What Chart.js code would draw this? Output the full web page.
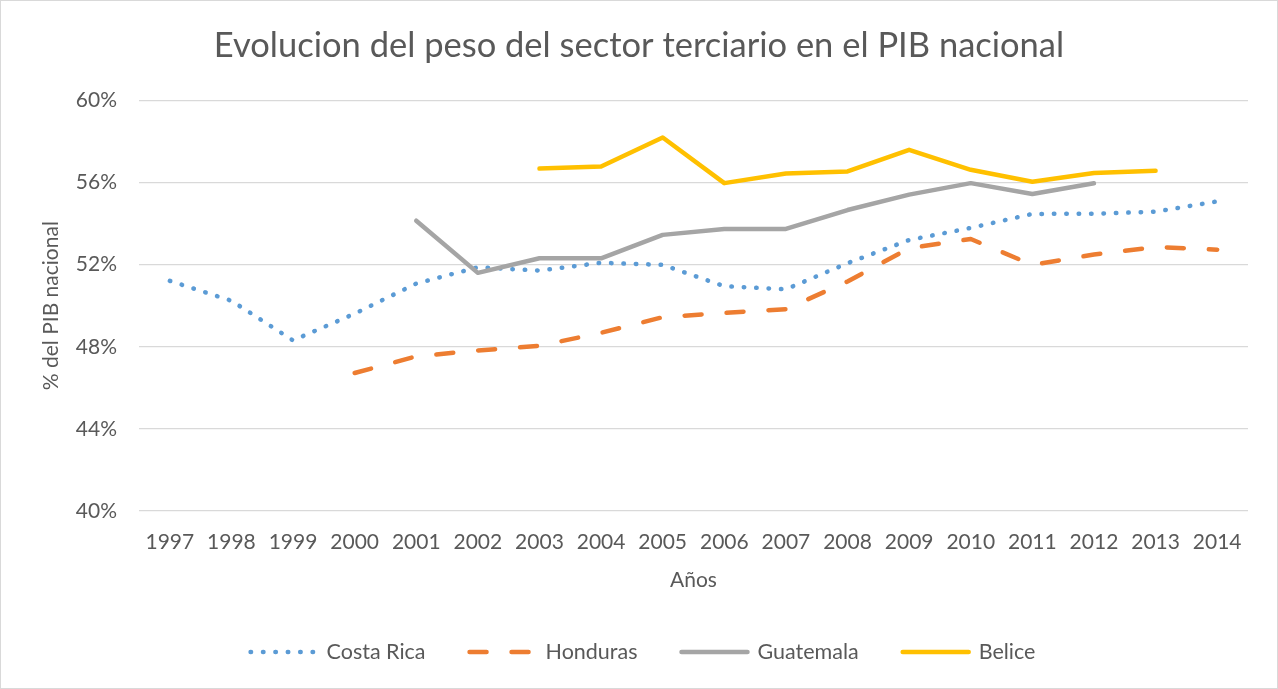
<!DOCTYPE html>
<html lang="es">
<head>
<meta charset="utf-8">
<title>Evolucion del peso del sector terciario en el PIB nacional</title>
<script src="https://cdn.jsdelivr.net/npm/chart.js@4.4.1/dist/chart.umd.min.js"></script>
<style>
  html, body { margin: 0; padding: 0; background: #ffffff; }
  #wrap { width: 1278px; height: 689px; position: relative; }
</style>
</head>
<body>
<div id="wrap"><canvas id="pibChart" width="1278" height="689"></canvas></div>
<script>
  // Data (% of GDP)
  const years = ['1997', '1998', '1999', '2000', '2001', '2002', '2003', '2004', '2005',
                 '2006', '2007', '2008', '2009', '2010', '2011', '2012', '2013', '2014'];
  const costaRica = [51.21, 50.24, 48.31, 49.61, 51.08, 51.87, 51.71, 52.09, 51.99,
                     50.95, 50.80, 52.07, 53.20, 53.79, 54.47, 54.48, 54.58, 55.08];
  const honduras = [null, null, null, 46.72, 47.53, 47.82, 48.05, 48.68, 49.44,
                    49.65, 49.83, 51.18, 52.80, 53.25, 51.99, 52.49, 52.86, 52.73];
  const guatemala = [null, null, null, null, 54.14, 51.60, 52.31, 52.31, 53.45,
                     53.74, 53.74, 54.66, 55.41, 55.97, 55.44, 55.96, null, null];
  const belice = [null, null, null, null, null, null, 56.68, 56.78, 58.19,
                  55.97, 56.44, 56.54, 57.59, 56.62, 56.04, 56.46, 56.57, null];
  const yTicks = [40, 44, 48, 52, 56, 60];

  const textColor = '#595959';
  const fontFamily = "Lato, 'Open Sans', sans-serif";

  // Thin grey frame around the whole chart
  const framePlugin = {
    id: 'frame',
    beforeDraw(chart) {
      const ctx = chart.ctx;
      ctx.save();
      ctx.fillStyle = '#ffffff';
      ctx.fillRect(0, 0, chart.width, chart.height);
      ctx.strokeStyle = '#d9d9d9';
      ctx.lineWidth = 1;
      ctx.strokeRect(0.5, 0.5, chart.width - 1, chart.height - 1);
      ctx.restore();
    }
  };

  // Legend drawn by hand so the line samples look like Excel's
  const lineLegend = {
    id: 'lineLegend',
    afterDraw(chart) {
      const ctx = chart.ctx;
      const sample = 70, gapText = 8, gapItem = 42, y = 652;
      ctx.save();
      ctx.font = '21.5px ' + fontFamily;
      ctx.textBaseline = 'middle';
      const sets = chart.data.datasets;
      let total = 0;
      sets.forEach((ds, i) => {
        total += sample + gapText + ctx.measureText(ds.label).width;
        if (i < sets.length - 1) total += gapItem;
      });
      let x = 642 - total / 2;
      sets.forEach(ds => {
        ctx.beginPath();
        ctx.strokeStyle = ds.borderColor;
        ctx.lineWidth = ds.borderWidth;
        ctx.lineCap = 'round';
        ctx.setLineDash(ds.borderDash || []);
        ctx.moveTo(x + 2, y);
        ctx.lineTo(x + sample - 2, y);
        ctx.stroke();
        ctx.setLineDash([]);
        x += sample + gapText;
        ctx.fillStyle = textColor;
        ctx.fillText(ds.label, x, y);
        x += ctx.measureText(ds.label).width + gapItem;
      });
      ctx.restore();
    }
  };

  const ctx = document.getElementById('pibChart').getContext('2d');

  new Chart(ctx, {
    type: 'line',
    data: {
      labels: years,
      datasets: [
        {
          label: 'Costa Rica',
          data: costaRica,
          borderColor: '#5b9bd5',
          borderWidth: 4.5,
          borderDash: [0.5, 11.9],
          borderCapStyle: 'round',
          order: 3
        },
        {
          label: 'Honduras',
          data: honduras,
          borderColor: '#ed7d31',
          borderWidth: 4.5,
          borderDash: [17, 25],
          borderCapStyle: 'round',
          order: 2
        },
        {
          label: 'Guatemala',
          data: guatemala,
          borderColor: '#a5a5a5',
          borderWidth: 4.5,
          borderCapStyle: 'round',
          order: 1
        },
        {
          label: 'Belice',
          data: belice,
          borderColor: '#ffc000',
          borderWidth: 4.5,
          borderCapStyle: 'round',
          order: 0
        }
      ]
    },
    options: {
      responsive: false,
      animation: false,
      events: [],
      elements: {
        point: { radius: 0 },
        line: { tension: 0, borderJoinStyle: 'round', fill: false }
      },
      layout: {
        padding: { left: 30, right: 30, top: 0, bottom: 0 }
      },
      plugins: {
        legend: { display: false },
        tooltip: { enabled: false },
        title: {
          display: true,
          text: 'Evolucion del peso del sector terciario en el PIB nacional',
          color: textColor,
          font: { family: fontFamily, size: 34.5, weight: '400', lineHeight: 1.2 },
          padding: { top: 25, bottom: 34 }
        }
      },
      scales: {
        x: {
          offset: true,
          grid: { display: false, drawTicks: false },
          border: { display: false },
          ticks: {
            color: textColor,
            font: { family: fontFamily, size: 21, lineHeight: 1.2 },
            padding: 19,
            maxRotation: 0,
            autoSkip: false
          },
          title: {
            display: true,
            text: 'Años',
            color: textColor,
            font: { family: fontFamily, size: 21, lineHeight: 1.2 },
            padding: { top: 0, bottom: 96 }
          },
          afterFit(scale) {
            scale.height = 178;
          }
        },
        y: {
          min: yTicks[0],
          max: yTicks[yTicks.length - 1],
          afterBuildTicks(scale) {
            scale.ticks = yTicks.map(v => ({ value: v }));
          },
          grid: { color: '#d9d9d9', lineWidth: 1.3, drawTicks: false },
          border: { display: false },
          ticks: {
            color: textColor,
            font: { family: fontFamily, size: 21, lineHeight: 1.2 },
            padding: 22,
            callback: v => v + '%'
          },
          title: {
            display: true,
            text: '% del PIB nacional',
            color: textColor,
            font: { family: fontFamily, size: 21, lineHeight: 1.2 },
            padding: { top: 9, bottom: 0 }
          },
          afterFit(scale) {
            scale.width = 109;
          }
        }
      }
    },
    plugins: [framePlugin, lineLegend]
  });
</script>
</body>
</html>
